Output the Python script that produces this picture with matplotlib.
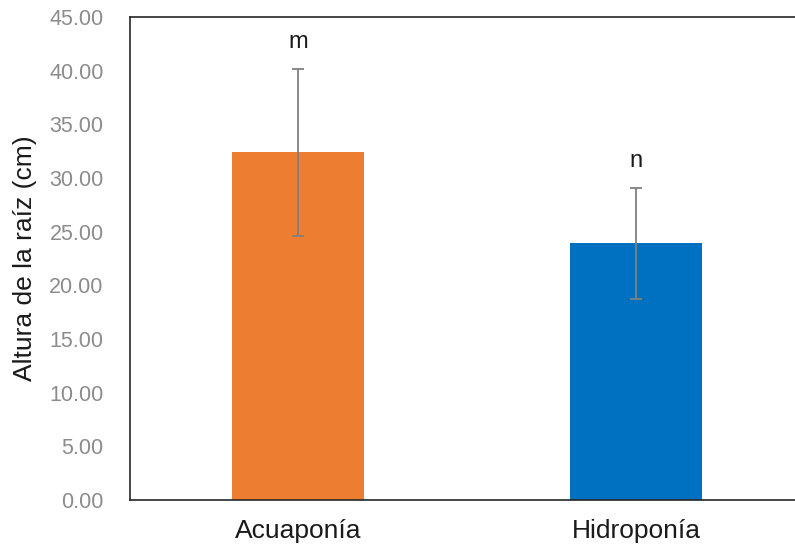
import matplotlib
matplotlib.use('Agg')
import matplotlib.pyplot as plt

# root height per system (mean +/- sd) with significance letters
sistemas = ['Acuaponía', 'Hidroponía']
altura = [32.4, 23.9]
desv = [7.8, 5.15]
letras = ['m', 'n']
colores = ['#ED7D31', '#0070C0']
yticks = [0, 5, 10, 15, 20, 25, 30, 35, 40, 45]

plt.rcParams['font.family'] = ['Liberation Sans', 'DejaVu Sans']

fig = plt.figure(figsize=(7.95, 5.46), dpi=100)
# axis box runs past the right edge of the image
ax = fig.add_axes([130/795, 46/546, 665/795, 483/546])

x = range(len(sistemas))
ax.bar(x, altura, width=0.39, color=colores, zorder=2)
ax.errorbar(x, altura, yerr=desv, fmt='none', ecolor='#808080',
            elinewidth=1.3, capsize=4, capthick=1.3, zorder=3)

for xi, h, e, l in zip(x, altura, desv, letras):
    ax.text(xi, h + e + 2.5, l, ha='center', va='center', fontsize=17, color='#1a1a1a')

ax.set_xlim(-0.497, 1.470)
ax.set_ylim(0, 45)
ax.set_yticks(yticks)
ax.set_yticklabels(['%.2f' % v for v in yticks], color='#8c8c8c', fontsize=15.5)
ax.set_xticks(list(x))
ax.set_xticklabels(sistemas, fontsize=19, color='#1a1a1a')
ax.tick_params(axis='y', length=0, pad=19)
ax.tick_params(axis='x', length=0, pad=14)
ax.set_ylabel('Altura de la raíz (cm)', fontsize=19, color='#1a1a1a', labelpad=9)

for s in ['left', 'bottom', 'top']:
    ax.spines[s].set_color('#262626')
    ax.spines[s].set_linewidth(1.2)
ax.spines['right'].set_visible(False)

fig.savefig('out.png', dpi=100)
